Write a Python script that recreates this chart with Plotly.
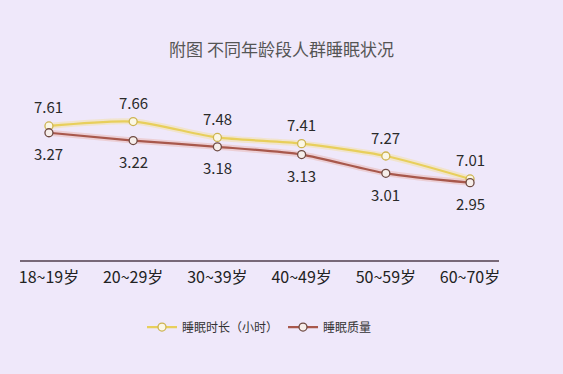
import plotly.graph_objects as go

categories = ["18~19岁", "20~29岁", "30~39岁", "40~49岁", "50~59岁", "60~70岁"]
sleep_hours = [7.61, 7.66, 7.48, 7.41, 7.27, 7.01]
sleep_quality = [3.27, 3.22, 3.18, 3.13, 3.01, 2.95]
name_hours = "睡眠时长（小时）"
name_quality = "睡眠质量"
title_text = "附图 不同年龄段人群睡眠状况"

FONT = "Noto Sans CJK SC"
YEL = "#E8CF5C"
RED = "#A8584C"
BG = "#EFE8FA"

fig = go.Figure()
# soft glow under lines
fig.add_trace(go.Scatter(x=categories, y=sleep_hours, mode="lines", yaxis="y",
                         line=dict(color="rgba(245,220,120,0.35)", width=6, shape="spline", smoothing=0.7),
                         showlegend=False, hoverinfo="skip"))
fig.add_trace(go.Scatter(x=categories, y=sleep_quality, mode="lines", yaxis="y2",
                         line=dict(color="rgba(230,150,130,0.30)", width=6, shape="spline", smoothing=0.7),
                         showlegend=False, hoverinfo="skip"))
fig.add_trace(go.Scatter(x=categories, y=sleep_hours, mode="lines+markers", name=name_hours, yaxis="y",
                         line=dict(color=YEL, width=2.2, shape="spline", smoothing=0.7),
                         marker=dict(size=8, color="#FBF7E6", line=dict(color="#CDB451", width=1.3))))
fig.add_trace(go.Scatter(x=categories, y=sleep_quality, mode="lines+markers", name=name_quality, yaxis="y2",
                         line=dict(color=RED, width=2.2, shape="spline", smoothing=0.7),
                         marker=dict(size=8, color="#F6EEEA", line=dict(color="#6E4A42", width=1.3))))

annotations = []
for c, v in zip(categories, sleep_hours):
    annotations.append(dict(x=c, y=v, xref="x", yref="y", text=f"{v:.2f}", showarrow=False,
                            yshift=19, font=dict(family=FONT, size=15, color="#2a2a2a")))
for c, v in zip(categories, sleep_quality):
    annotations.append(dict(x=c, y=v, xref="x", yref="y2", text=f"{v:.2f}", showarrow=False,
                            yshift=-21, font=dict(family=FONT, size=15, color="#2a2a2a")))

fig.update_layout(
    width=563, height=374,
    margin=dict(l=20, r=64, t=100, b=114),
    paper_bgcolor=BG, plot_bgcolor=BG,
    font=dict(family=FONT, color="#222"),
    title=dict(text=title_text, x=0.5, xanchor="center", y=1 - 50 / 374, yanchor="middle",
               font=dict(family=FONT, size=17, color="#555555")),
    xaxis=dict(showgrid=False, showline=True, linecolor="#786878", linewidth=1.5,
               ticks="", tickfont=dict(family=FONT, size=16, color="#222"), ticklabelstandoff=2,
               zeroline=False),
    yaxis=dict(range=[6.0925, 7.904], visible=False, showgrid=False),
    yaxis2=dict(range=[2.454, 3.48], visible=False, showgrid=False, overlaying="y"),
    legend=dict(orientation="h", x=0.5, xanchor="center", y=-0.419, yanchor="middle",
                font=dict(family=FONT, size=12, color="#333"), bgcolor="rgba(0,0,0,0)"),
    annotations=annotations,
    showlegend=True,
)

fig.write_html("out.html", config={"displayModeBar": False},
               post_script="document.body.style.margin='0';document.body.style.background='%s';" % BG)
